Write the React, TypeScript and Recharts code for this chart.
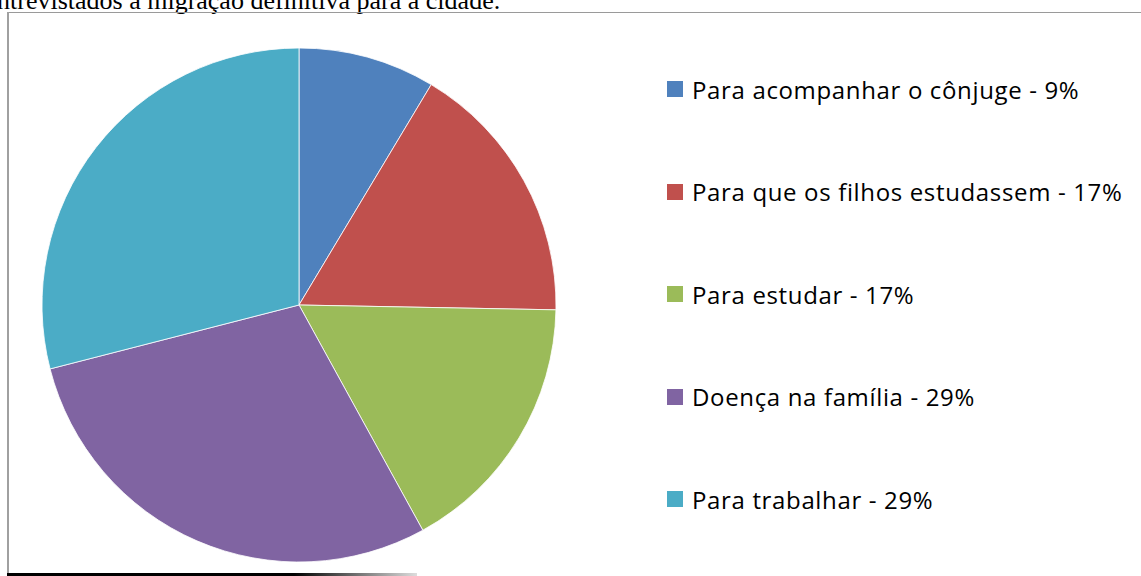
import React from "react";
import { PieChart, Pie, Cell, Legend } from "recharts";

const categories = [
  "Para acompanhar o cônjuge - 9%",
  "Para que os filhos estudassem - 17%",
  "Para estudar - 17%",
  "Doença na família - 29%",
  "Para trabalhar - 29%",
];
const values = [8.6, 16.7, 16.7, 29.0, 29.0];
const colors = ["#4F81BD", "#C0504D", "#9BBB59", "#8064A2", "#4BACC6"];
const headerText = "ntrevistados a migração definitiva para a cidade.";

const data = categories.map((name, i) => ({ name, value: values[i] }));

const LegendContent = (props: any) => {
  const payload = [...(props.payload || [])].sort(
    (a: any, b: any) => categories.indexOf(a.value) - categories.indexOf(b.value)
  );
  return (
    <div style={{ position: "relative", width: 470, height: 450 }}>
      {payload.map((entry: any, i: number) => (
        <div
          key={i}
          style={{
            position: "absolute",
            left: 0,
            top: i * 102.5,
            height: 30,
            display: "flex",
            alignItems: "center",
            whiteSpace: "nowrap",
          }}
        >
          <span
            style={{
              display: "inline-block",
              width: 16,
              height: 16,
              background: entry.color,
              marginRight: 9,
            }}
          />
          <span
            style={{
              fontFamily: "'Open Sans', sans-serif",
              fontSize: 24,
              color: "#000",
              letterSpacing: 0.65,
            }}
          >
            {entry.value}
          </span>
        </div>
      ))}
    </div>
  );
};

export default function App() {
  return (
    <div
      style={{
        position: "absolute",
        left: 0,
        top: 0,
        width: 1141,
        height: 576,
        overflow: "hidden",
        background: "#fff",
      }}
    >
      <div
        style={{
          position: "absolute",
          left: -3,
          top: -14,
          fontFamily: "'Liberation Serif', 'Times New Roman', serif",
          fontSize: 26,
          lineHeight: "30px",
          whiteSpace: "nowrap",
          color: "#000",
        }}
      >
        {headerText}
      </div>
      {/* frame */}
      <div style={{ position: "absolute", left: 8, top: 12, width: 1133, height: 1, background: "#9a9a9a" }} />
      <div style={{ position: "absolute", left: 7, top: 12, width: 2, height: 564, background: "#a0a0a0" }} />
      <div
        style={{
          position: "absolute",
          left: 7,
          top: 573,
          width: 410,
          height: 3,
          background: "linear-gradient(to right, #000 0%, #000 70%, #ddd 100%)",
        }}
      />
      <div style={{ position: "absolute", left: 0, top: 0 }}>
        <PieChart width={1141} height={576} margin={{ top: 0, right: 0, bottom: 0, left: 0 }}>
          <Pie
            data={data}
            dataKey="value"
            nameKey="name"
            cx={299}
            cy={305}
            outerRadius={257}
            startAngle={90}
            endAngle={-270}
            stroke="#ffffff"
            strokeWidth={0.8}
            isAnimationActive={false}
          >
            {data.map((_, i) => (
              <Cell key={i} fill={colors[i]} />
            ))}
          </Pie>
          <Legend
            layout="vertical"
            verticalAlign="top"
            align="right"
            wrapperStyle={{ left: 667, top: 74, right: "auto", width: 470 }}
            content={<LegendContent />}
          />
        </PieChart>
      </div>
    </div>
  );
}
